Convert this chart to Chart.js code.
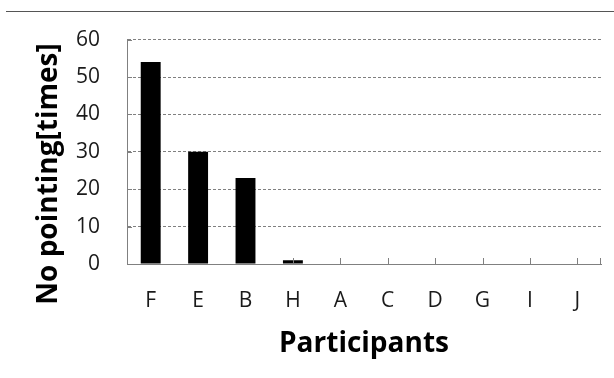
<!DOCTYPE html>
<html>
<head>
<meta charset="utf-8">
<script src="https://cdn.jsdelivr.net/npm/chart.js@4/dist/chart.umd.min.js"></script>
<style>
  html,body{margin:0;padding:0;background:#fff;}
  #wrap{width:614px;height:378px;position:relative;}
</style>
</head>
<body>
<div id="wrap"><canvas id="c" width="614" height="378"></canvas></div>
<script>
// datos
const participantes = ['F','E','B','H','A','C','D','G','I','J'];
const sinApuntar = [54, 30, 23, 1, 0, 0, 0, 0, 0, 0];
const yMax = 60;
const yStep = 10;
const tituloY = 'No pointing[times]';
const tituloX = 'Participants';

const FUENTE = "'Open Sans', 'Noto Sans', sans-serif";

// línea fina arriba, título vertical y marcas cortas hacia dentro
const adornos = {
  id:'adornos',
  beforeDraw(chart){
    const ctx = chart.ctx;
    ctx.save();
    ctx.strokeStyle = '#555';
    ctx.lineWidth = 1;
    ctx.beginPath(); ctx.moveTo(6, 11.5); ctx.lineTo(614, 11.5); ctx.stroke();
    ctx.restore();
  },
  afterDatasetsDraw(chart){
    const ctx = chart.ctx;
    const xs = chart.scales.x, ys = chart.scales.y;
    const area = chart.chartArea;
    ctx.save();
    ctx.strokeStyle = '#808080';
    ctx.lineWidth = 1;
    ctx.beginPath();
    participantes.forEach((p,i)=>{
      if(sinApuntar[i] > 2) return;
      const x = Math.round(xs.getPixelForValue(i)) + 0.5;
      ctx.moveTo(x, area.bottom); ctx.lineTo(x, area.bottom - 6);
    });
    const xr = Math.round(area.right) - 0.5;
    ctx.moveTo(xr, area.bottom); ctx.lineTo(xr, area.bottom - 6);
    ys.ticks.forEach(t=>{
      const y = Math.round(ys.getPixelForValue(t.value)) + 0.5;
      ctx.moveTo(area.left, y); ctx.lineTo(area.left + 5, y);
    });
    ctx.stroke();

    // título del eje Y (algo más abajo que el centro del área)
    ctx.translate(49, 174);
    ctx.rotate(-Math.PI/2);
    ctx.fillStyle = '#000';
    ctx.font = "bold 28px " + FUENTE;
    ctx.textAlign = 'center';
    ctx.textBaseline = 'middle';
    ctx.fillText(tituloY, 0, 0);
    ctx.restore();
  }
};

new Chart(document.getElementById('c'), {
  type:'bar',
  data:{
    labels: participantes,
    datasets:[{
      data: sinApuntar,
      backgroundColor:'#000',
      borderWidth:0,
      categoryPercentage:0.84,
      barPercentage:0.5
    }]
  },
  plugins:[adornos],
  options:{
    responsive:false,
    animation:false,
    layout:{ padding:{ top:36, right:13, left:0, bottom:0 } },
    plugins:{ legend:{display:false}, tooltip:{enabled:false} },
    scales:{
      x:{
        offset:true,
        grid:{ display:false, drawTicks:false },
        border:{ display:true, color:'#808080', width:1 },
        ticks:{ color:'#1a1a1a', font:{ family:FUENTE, size:21 }, padding:24 },
        title:{ display:true, text:tituloX, color:'#000',
                font:{ family:FUENTE, size:28, weight:'bold' }, padding:{top:0, bottom:17} },
        afterFit(s){ s.height = 114; }
      },
      y:{
        min:0, max:yMax,
        grid:{ color:'#808080', lineWidth:1, drawTicks:false },
        border:{ display:true, color:'#808080', width:1, dash:[3,2] },
        ticks:{ stepSize:yStep, color:'#1a1a1a', font:{ family:FUENTE, size:21 }, padding:27 },
        title:{ display:false },
        afterFit(s){ s.width = 127; }
      }
    }
  }
});
</script>
</body>
</html>
